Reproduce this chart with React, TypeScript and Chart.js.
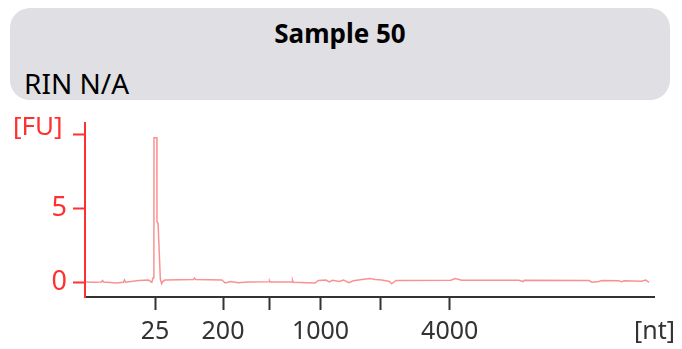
import React, { useEffect, useRef } from "react";
import { Chart, registerables } from "chart.js";

Chart.register(...registerables);

// Electropherogram trace: migration time [s] and fluorescence [FU]
const traceTimes = [
  17.1, 17.8, 18.5, 18.6, 18.7, 19.9, 20.5, 20.6, 20.7, 21.9, 22.8, 23.1,
  23.22, 23.29, 23.3, 23.56, 23.57, 23.67, 23.88, 24.0, 24.1, 24.3, 26.9,
  27.0, 27.1, 29.5, 29.8, 30.3, 31.0, 31.9, 33.8, 33.85, 33.9, 35.9, 35.95,
  36.0, 38.0, 38.3, 39.0, 39.3, 39.6, 40.2, 40.6, 41.1, 41.5, 42.3, 43.0,
  43.5, 44.1, 44.8, 45.0, 45.4, 50.4, 50.8, 51.4, 56.6, 57.0, 57.1, 63.0,
  63.3, 63.9, 64.2, 65.7, 66.0, 66.2, 67.8, 68.2, 68.5,
];
const traceFU = [
  0.02, 0.0, 0.02, 0.12, 0.02, -0.05, 0.0, 0.15, 0.0, 0.12, 0.15, 0.0,
  0.3, 2.9, 9.8, 9.8, 4.1, 4.0, 0.2, -0.1, 0.05, 0.15, 0.18,
  0.28, 0.18, 0.15, -0.05, 0.05, -0.03, 0.02, 0.03, 0.1, 0.02, 0.02, 0.12,
  0.0, -0.05, 0.12, 0.15, 0.02, 0.13, 0.05, 0.15, -0.03, 0.1, 0.18, 0.25,
  0.18, 0.15, 0.05, -0.1, 0.12, 0.14, 0.25, 0.14, 0.14, 0.05, 0.14, 0.12,
  0.0, 0.05, 0.12, 0.1, 0.03, 0.1, 0.07, 0.15, 0.0,
];

// Ladder positions on the time axis and their size labels [nt]
const ladderTimes = [23.4, 29.6, 33.8, 38.5, 44.0, 50.3, 69];
const ladderLabels = ["25", "200", "", "1000", "", "4000", "[nt]"];

const fuTicks = [0, 5, 10];
const fuTickLabels = ["0", "5", ""];

const sampleName = "Sample 50";
const rinText = "RIN N/A";
const fuUnit = "[FU]";

const RED = "#ff3030";
const TRACE = "rgba(245, 100, 100, 0.7)";
const DARK = "#333333";
const FONT = '"Noto Sans", sans-serif';

const unitLabel = {
  id: "unitLabel",
  afterDraw(chart: any) {
    const y = chart.scales.y;
    const ctx = chart.ctx;
    ctx.save();
    ctx.font = `26px ${FONT}`;
    ctx.fillStyle = RED;
    ctx.textAlign = "left";
    ctx.textBaseline = "middle";
    ctx.fillText(fuUnit, 13, y.getPixelForValue(10) - 7);
    ctx.restore();
  },
};

export default function App() {
  const canvasRef = useRef<HTMLCanvasElement | null>(null);

  useEffect(() => {
    if (!canvasRef.current) return;
    const chart = new Chart(canvasRef.current, {
      type: "line",
      data: {
        datasets: [
          {
            data: traceTimes.map((t, i) => ({ x: t, y: traceFU[i] })),
            borderColor: TRACE,
            borderWidth: 1.5,
            pointRadius: 0,
            tension: 0,
            fill: false,
          },
        ],
      },
      plugins: [unitLabel],
      options: {
        animation: false,
        responsive: true,
        maintainAspectRatio: false,
        layout: { padding: { top: 23, right: 26, left: 0, bottom: 0 } },
        plugins: {
          legend: { display: false },
          tooltip: { enabled: false },
          title: { display: false },
        },
        scales: {
          x: {
            type: "linear",
            min: 17,
            max: 69,
            afterBuildTicks(scale: any) {
              scale.ticks = ladderTimes.map((v) => ({ value: v }));
            },
            afterFit(scale: any) {
              scale.height = 52;
            },
            border: { color: DARK, width: 2 },
            grid: {
              drawOnChartArea: false,
              drawTicks: true,
              tickLength: 13,
              tickWidth: 2,
              tickColor: (ctx: any) =>
                ctx.tick && ctx.tick.value === ladderTimes[ladderTimes.length - 1]
                  ? "rgba(0,0,0,0)"
                  : DARK,
            },
            ticks: {
              autoSkip: false,
              maxRotation: 0,
              padding: 7,
              color: DARK,
              font: { family: FONT, size: 25 },
              callback: (_v: any, i: number) => ladderLabels[i],
            },
          },
          y: {
            type: "linear",
            min: -1.0,
            max: 10.8,
            afterBuildTicks(scale: any) {
              scale.ticks = fuTicks.map((v) => ({ value: v }));
            },
            afterFit(scale: any) {
              scale.width = 85;
            },
            border: { color: RED, width: 2 },
            grid: {
              drawOnChartArea: false,
              drawTicks: true,
              tickLength: 12,
              tickWidth: 2,
              tickColor: RED,
            },
            ticks: {
              padding: 6,
              color: RED,
              font: { family: FONT, size: 27 },
              callback: (_v: any, i: number) => fuTickLabels[i],
            },
          },
        },
      },
    });
    return () => chart.destroy();
  }, []);

  return (
    <div
      style={{
        position: "absolute",
        left: 0,
        top: 0,
        width: 682,
        height: 349,
        background: "#ffffff",
        fontFamily: FONT,
        overflow: "hidden",
      }}
    >
      <div
        style={{
          position: "absolute",
          left: 10,
          top: 8,
          width: 660,
          height: 92,
          background: "#e0dfe3",
          borderRadius: 20,
        }}
      >
        <div
          style={{
            position: "absolute",
            left: 0,
            right: 0,
            top: 8,
            textAlign: "center",
            fontWeight: "bold",
            fontSize: 26,
            lineHeight: "34px",
            color: "#000",
          }}
        >
          {sampleName}
        </div>
        <div
          style={{
            position: "absolute",
            left: 14,
            top: 58,
            fontSize: 28,
            lineHeight: "34px",
            color: "#000",
          }}
        >
          {rinText}
        </div>
      </div>
      <div
        style={{ position: "absolute", left: 0, top: 100, width: 682, height: 249 }}
      >
        <canvas ref={canvasRef} />
      </div>
    </div>
  );
}
